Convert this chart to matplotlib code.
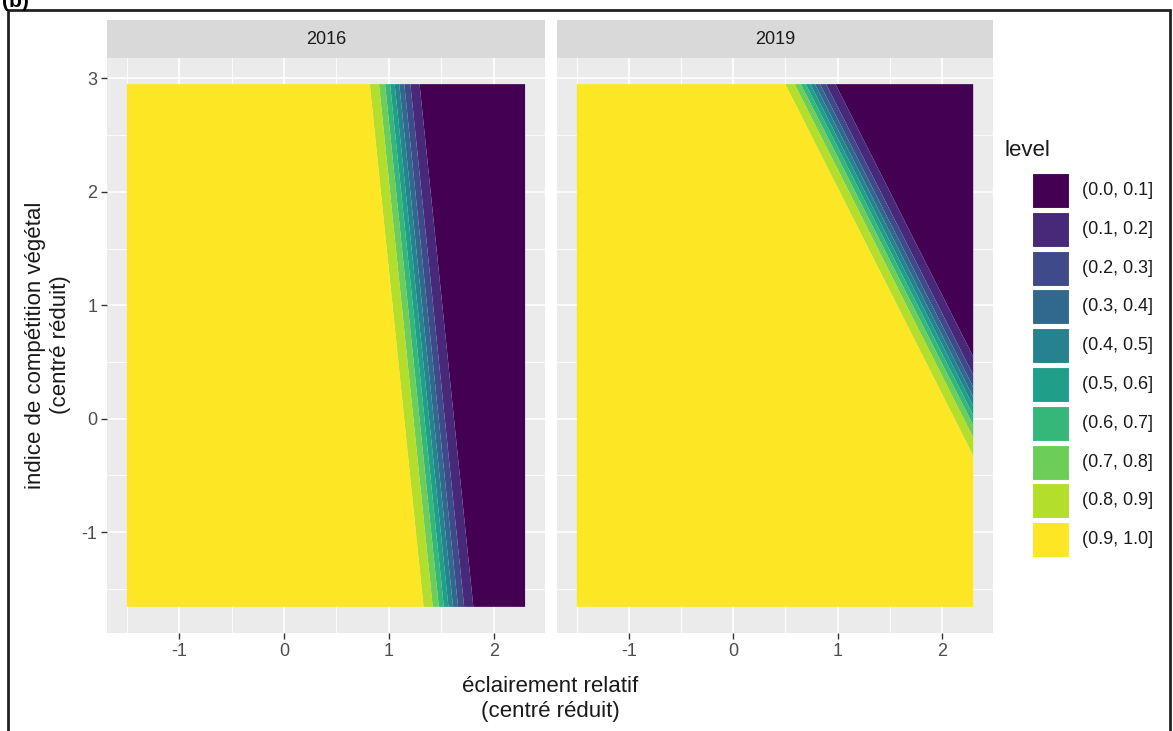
#Predicted probability surfaces (facets 2016 / 2019) in ggplot look

import numpy as np
import matplotlib.pyplot as plt
from matplotlib.patches import Rectangle

plt.rcParams['font.family'] = ['Liberation Sans', 'DejaVu Sans']

years = ["2016", "2019"]
# logit = a + b*light + c*comp, coefficients
intercept = [12.8, 21.6]
b_light = [-9.25, -9.15]
c_comp = [-1.03, -5.03]

light_lim = [-1.5, 2.3]
comp_lim = [-1.66, 2.95]

levels = [0.0, 0.1, 0.2, 0.3, 0.4, 0.5, 0.6, 0.7, 0.8, 0.9, 1.0]
level_labels = ["(0.0, 0.1]", "(0.1, 0.2]", "(0.2, 0.3]", "(0.3, 0.4]", "(0.4, 0.5]",
                "(0.5, 0.6]", "(0.6, 0.7]", "(0.7, 0.8]", "(0.8, 0.9]", "(0.9, 1.0]"]
cols = ["#440154", "#482878", "#3E4A89", "#31688E", "#26828E",
        "#1F9E89", "#35B779", "#6DCD59", "#B4DE2C", "#FDE725"]

xticks = [-1, 0, 1, 2]
yticks = [-1, 0, 1, 2, 3]

W, H = 1173, 731
fig = plt.figure(figsize=(W/100, H/100), dpi=100)

def fx(px):
	return px/W
def fy(py):
	return 1.0 - py/H

panels = [(107, 545), (557, 993)]
pTop, pBot = 58, 633
sTop = 20

gx = np.linspace(light_lim[0], light_lim[1], 400)
gy = np.linspace(comp_lim[0], comp_lim[1], 400)
X, Y = np.meshgrid(gx, gy)

xr = light_lim[1] - light_lim[0]
yr = comp_lim[1] - comp_lim[0]
xlim = [light_lim[0] - 0.05*xr, light_lim[1] + 0.05*xr]
ylim = [comp_lim[0] - 0.05*yr, comp_lim[1] + 0.05*yr]

for i, yr_lab in enumerate(years):
	x0, x1 = panels[i]
	ax = fig.add_axes([fx(x0), fy(pBot), fx(x1 - x0), (pBot - pTop)/H])
	ax.set_facecolor("#EBEBEB")
	for s in ax.spines.values():
		s.set_visible(False)
	for v in [-1.5, -0.5, 0.5, 1.5]:
		ax.axvline(v, color="white", lw=0.6, zorder=0)
	for v in [-1.5, -0.5, 0.5, 1.5, 2.5]:
		ax.axhline(v, color="white", lw=0.6, zorder=0)
	for v in xticks:
		ax.axvline(v, color="white", lw=1.2, zorder=0)
	for v in yticks:
		ax.axhline(v, color="white", lw=1.2, zorder=0)

	L = intercept[i] + b_light[i]*X + c_comp[i]*Y
	P = 1.0/(1.0 + np.exp(-L))
	ax.contourf(X, Y, P, levels=levels, colors=cols, zorder=2, antialiased=True)

	ax.set_xlim(xlim)
	ax.set_ylim(ylim)
	ax.set_xticks(xticks)
	ax.set_xticklabels([str(t) for t in xticks])
	ax.set_yticks(yticks)
	ax.tick_params(colors="#333333", labelcolor="#4D4D4D", labelsize=13, length=4, width=1.0, pad=3)
	if i == 0:
		ax.set_yticklabels([str(t) for t in yticks])
	else:
		ax.set_yticklabels([])
		ax.tick_params(axis='y', length=0)

	sax = fig.add_axes([fx(x0), fy(pTop), fx(x1 - x0), (pTop - sTop)/H])
	sax.set_facecolor("#D9D9D9")
	sax.set_xticks([])
	sax.set_yticks([])
	for s in sax.spines.values():
		s.set_visible(False)
	sax.text(0.5, 0.5, yr_lab, ha="center", va="center", fontsize=13, color="#1A1A1A", transform=sax.transAxes)

#Axis titles
fig.text(fx(550), fy(699), "éclairement relatif\n(centré réduit)", ha="center", va="center",
	fontsize=16, color="#1A1A1A", linespacing=1.25)
fig.text(fx(48), fy(345), "indice de compétition végétal\n(centré réduit)", ha="center", va="center",
	rotation=90, fontsize=16, color="#1A1A1A", linespacing=1.25)

#Legend
fig.text(fx(1005), fy(150), "level", ha="left", va="center", fontsize=16, color="#1A1A1A")
kTop = 173
kStep = 38.8
kH = 35
for k in range(len(cols)):
	yk = kTop + k*kStep
	fig.patches.append(Rectangle((fx(1032), fy(yk + kH)), fx(37), kH/H, transform=fig.transFigure,
		facecolor=cols[k], edgecolor="white", lw=0.8))
	fig.text(fx(1082), fy(yk + kH/2), level_labels[k], ha="left", va="center", fontsize=13, color="#1A1A1A")

#Outer frame and panel tag
fig.patches.append(Rectangle((fx(8), fy(735)), fx(1162), (735 - 10)/H, transform=fig.transFigure,
	facecolor="none", edgecolor="#222222", lw=2))
fig.text(fx(2), fy(7), "(b)", ha="left", va="baseline", fontsize=15, fontweight="bold", color="black")

plt.savefig("out.png", dpi=100)
plt.close('all')
